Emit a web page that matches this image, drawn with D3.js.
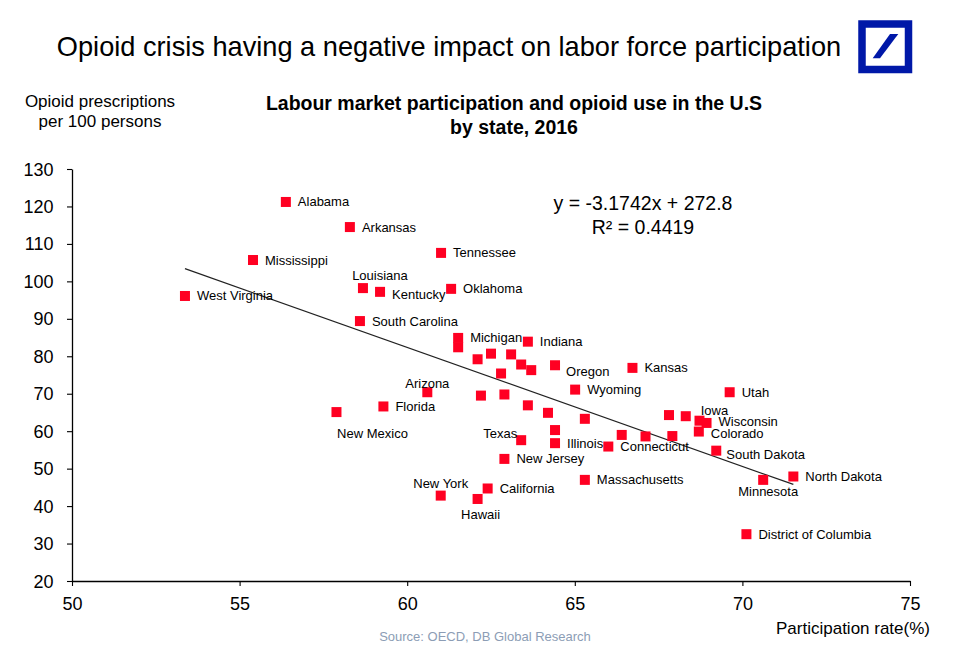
<!DOCTYPE html>
<html>
<head>
<meta charset="utf-8">
<script src="https://cdn.jsdelivr.net/npm/d3@7"></script>
<style>
  html, body { margin: 0; padding: 0; background: #fff; }
  svg { display: block; font-family: "Liberation Sans", Arial, Helvetica, sans-serif; }
</style>
</head>
<body>
<svg id="chart" width="960" height="655"></svg>
<script>
// ---------------- DATA ----------------
const states = ["Alabama","Arkansas","Mississippi","West Virginia","Tennessee","Louisiana","Kentucky","Oklahoma","South Carolina","Michigan","","Indiana","","","","","","","Oregon","Wyoming","Arizona","Florida","New Mexico","","","","","","","Illinois","Texas","New Jersey","Connecticut","Massachusetts","California","New York","Hawaii","","Kansas","Utah","","","Iowa","Wisconsin","Colorado","","","South Dakota","Minnesota","North Dakota","District of Columbia"];
const participation = [56.38,58.29,55.40,53.37,61.01,58.68,59.19,61.31,58.59,61.52,61.52,63.60,62.10,62.50,63.10,63.40,63.70,62.80,64.41,65.01,60.60,59.29,57.89,62.20,62.90,63.60,64.20,65.30,64.41,64.41,63.40,62.90,66.00,65.30,62.40,61.00,62.10,66.40,66.72,69.62,67.81,68.31,68.72,68.93,68.70,67.11,67.91,69.22,70.62,71.52,70.12];
const opioidRate = [121.2,114.5,105.7,96.1,107.6,98.2,97.2,98.0,89.4,84.9,82.4,83.9,79.2,80.7,80.5,77.8,76.3,75.4,77.6,71.1,70.4,66.6,65.1,69.5,69.8,66.9,64.9,63.3,60.3,56.8,57.6,52.6,55.9,47.0,44.7,42.8,41.9,59.0,76.9,70.4,64.3,64.0,62.8,62.2,59.9,58.6,58.7,54.8,47.0,47.9,32.5];
const xTicks = [50,55,60,65,70,75];
const yTicks = [20,30,40,50,60,70,80,90,100,110,120,130];
const trendSlope = -3.1742;
const trendIntercept = 272.8;
const rSquared = 0.4419;

// ---------------- LAYOUT (label placement relative to marker) ----------------
const labelPlacement = {
  "Kentucky": {anchor:"start", dx:12, dy:3},
  "Oregon": {anchor:"start", dx:11, dy:6},
  "South Dakota": {anchor:"start", dx:10, dy:4},
  "Wisconsin": {anchor:"start", dx:12, dy:-1},
  "Colorado": {anchor:"start", dx:12, dy:2},
  "Louisiana": {anchor:"middle", dx:17, dy:-13},
  "Arizona": {anchor:"middle", dx:0, dy:-9},
  "New York": {anchor:"middle", dx:0, dy:-12},
  "Iowa": {anchor:"middle", dx:15, dy:-10},
  "Texas": {anchor:"middle", dx:-21, dy:-7},
  "New Mexico": {anchor:"middle", dx:36, dy:21},
  "Hawaii": {anchor:"middle", dx:3, dy:16},
  "Minnesota": {anchor:"middle", dx:5, dy:12}
};
const defaultPlacement = {anchor:"start", dx:12, dy:0};

const svg = d3.select("#chart");
const x = d3.scaleLinear().domain([50, 75]).range([72, 910]);
const y = d3.scaleLinear().domain([20, 130]).range([581, 169]);

// Title
svg.append("text").attr("x", 449).attr("y", 46).attr("text-anchor", "middle")
  .attr("dominant-baseline", "central").attr("font-size", 27.2).attr("fill", "#000")
  .text("Opioid crisis having a negative impact on labor force participation");

// Logo
svg.append("rect").attr("x", 862).attr("y", 24).attr("width", 46.5).attr("height", 45.5)
  .attr("fill", "#fff").attr("stroke", "#0018a8").attr("stroke-width", 7.5);
svg.append("polygon").attr("points", "872.7,58.3 880,58.3 898.3,34 890,34").attr("fill", "#0018a8");

// Subtitle
svg.append("text").attr("x", 514).attr("y", 103).attr("text-anchor", "middle")
  .attr("dominant-baseline", "central").attr("font-size", 19.5).attr("font-weight", "bold")
  .text("Labour market participation and opioid use in the U.S");
svg.append("text").attr("x", 514).attr("y", 127).attr("text-anchor", "middle")
  .attr("dominant-baseline", "central").attr("font-size", 19.5).attr("font-weight", "bold")
  .text("by state, 2016");

// Y axis title
svg.append("text").attr("x", 100).attr("y", 101).attr("text-anchor", "middle")
  .attr("dominant-baseline", "central").attr("font-size", 17).text("Opioid prescriptions");
svg.append("text").attr("x", 100).attr("y", 121).attr("text-anchor", "middle")
  .attr("dominant-baseline", "central").attr("font-size", 17).text("per 100 persons");

// Axes
const yAxis = svg.append("g").attr("transform", `translate(${x(50)},0)`)
  .call(d3.axisLeft(y).tickValues(yTicks).tickSize(5).tickPadding(13.5).tickSizeOuter(0));
const xAxis = svg.append("g").attr("transform", `translate(0,${y(20)})`)
  .call(d3.axisBottom(x).tickValues(xTicks).tickSize(5).tickSizeOuter(0));
[yAxis, xAxis].forEach(g => {
  g.select(".domain").attr("stroke", "#000").attr("stroke-width", 1.3);
  g.selectAll(".tick line").attr("stroke", "#000").attr("stroke-width", 1.1);
  g.selectAll(".tick text").attr("font-size", 18).attr("fill", "#000")
    .attr("font-family", "'Liberation Sans', Arial, sans-serif");
});
yAxis.selectAll(".tick text").attr("dy", null).attr("dominant-baseline", "central");
xAxis.selectAll(".tick text").attr("y", 23).attr("dy", null).attr("dominant-baseline", "central");

// X axis title & source
svg.append("text").attr("x", 930).attr("y", 628).attr("text-anchor", "end")
  .attr("dominant-baseline", "central").attr("font-size", 17).text("Participation rate(%)");
svg.append("text").attr("x", 485).attr("y", 636).attr("text-anchor", "middle")
  .attr("dominant-baseline", "central").attr("font-size", 13).attr("fill", "#8c9db5")
  .text("Source: OECD, DB Global Research");

// Trend line
const xMin = d3.min(participation), xMax = d3.max(participation);
svg.append("line")
  .attr("x1", x(xMin)).attr("y1", y(trendSlope * xMin + trendIntercept))
  .attr("x2", x(xMax)).attr("y2", y(trendSlope * xMax + trendIntercept))
  .attr("stroke", "#222").attr("stroke-width", 1.2);

// Equation
svg.append("text").attr("x", 643).attr("y", 203).attr("text-anchor", "middle")
  .attr("dominant-baseline", "central").attr("font-size", 19.5)
  .text(`y = ${trendSlope}x + ${trendIntercept}`);
svg.append("text").attr("x", 643).attr("y", 226.5).attr("text-anchor", "middle")
  .attr("dominant-baseline", "central").attr("font-size", 19.5)
  .text(`R² = ${rSquared}`);

// Points
const pts = states.map((s, i) => ({name: s, px: participation[i], op: opioidRate[i]}));
const ms = 10;
svg.append("g").selectAll("rect").data(pts).join("rect")
  .attr("x", d => x(d.px) - ms / 2).attr("y", d => y(d.op) - ms / 2)
  .attr("width", ms).attr("height", ms).attr("fill", "#ff0022");

// Labels
svg.append("g").selectAll("text").data(pts.filter(d => d.name)).join("text")
  .each(function(d) {
    const p = labelPlacement[d.name] || defaultPlacement;
    d3.select(this).attr("x", x(d.px) + p.dx).attr("y", y(d.op) + p.dy)
      .attr("text-anchor", p.anchor);
  })
  .attr("dominant-baseline", "central").attr("font-size", 13).attr("fill", "#000")
  .text(d => d.name);
</script>
</body>
</html>
